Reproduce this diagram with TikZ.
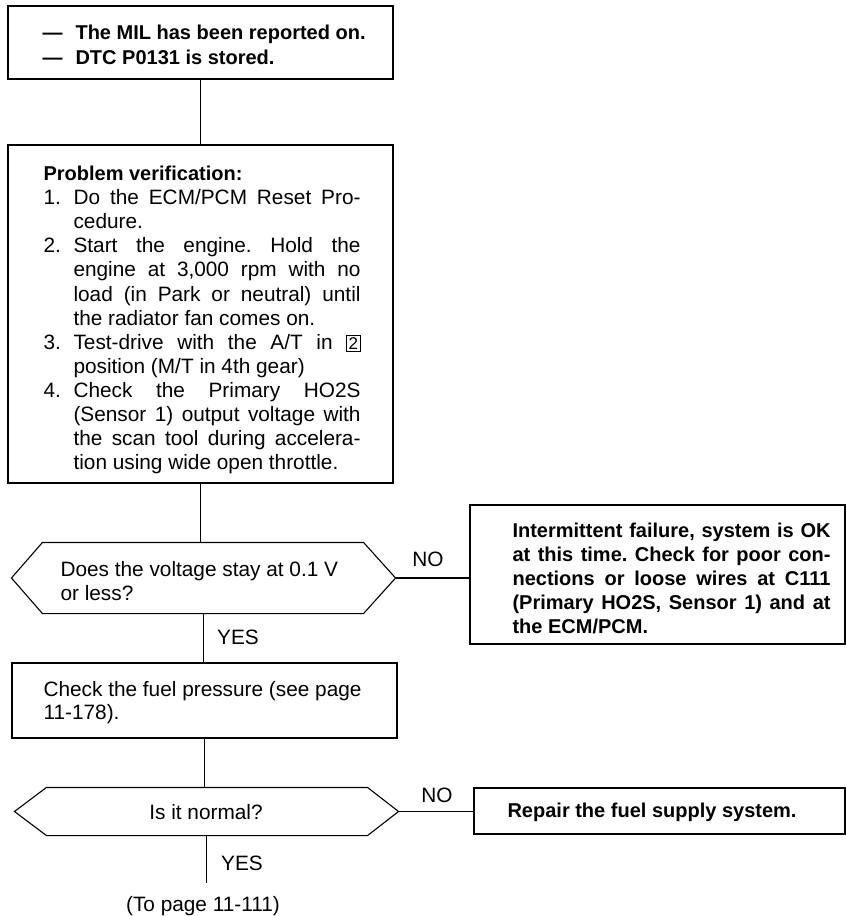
\documentclass[tikz,border=0pt]{standalone}
\usepackage{fontspec}
\setmainfont{Liberation Sans}
\usetikzlibrary{calc}
\frenchspacing
\newcommand\jl[1]{\makebox[287pt][s]{#1}}
\newcommand\jr[1]{\makebox[318pt][s]{#1}}
\newcommand\nm[1]{\makebox[30pt][l]{#1}}
\newcommand\boxtwo{{\setlength\fboxsep{1.5pt}\setlength\fboxrule{0.9pt}\fbox{\fontsize{17}{17}\selectfont 2}}}
\begin{document}
\begin{tikzpicture}[x=1pt,y=-1pt,line width=1.1pt,
  every node/.style={inner sep=0pt,font=\fontsize{20.8}{24}\selectfont\frenchspacing},
  bx/.style={draw,rectangle,inner sep=0pt},
  hx/.style={rectangle,inner sep=0pt},
  txt/.style={anchor=north west,align=left},
  bold/.style={font=\fontsize{20}{24}\selectfont\bfseries\frenchspacing},
  lbl/.style={anchor=center}]
\useasboundingbox[fill=white] (0,0) rectangle (846,916);

% boxes
\node[bx,minimum width=385pt,minimum height=73pt] (b1) at (200.5,42.5) {};
\node[bx,minimum width=385pt,minimum height=338pt] (b2) at (200.5,314) {};
\node[hx,minimum width=383pt,minimum height=70pt] (h1) at (203.5,578) {};
\node[bx,minimum width=375pt,minimum height=139pt] (r1) at (657.5,574.5) {};
\node[bx,minimum width=385pt,minimum height=75pt] (b3) at (204.5,700.5) {};
\node[hx,minimum width=383pt,minimum height=47pt] (h2) at (206.5,811.5) {};
\node[bx,minimum width=371pt,minimum height=46pt] (r2) at (659.5,811) {};
\coordinate (end) at (208,883);

% hexagons
\draw (h1.west) -- ([xshift=31pt]h1.north west) -- ([xshift=-32pt]h1.north east) -- (h1.east)
  -- ([xshift=-32pt]h1.south east) -- ([xshift=31pt]h1.south west) -- cycle;
\draw (h2.west) -- ([xshift=32pt]h2.north west) -- ([xshift=-31pt]h2.north east) -- (h2.east)
  -- ([xshift=-31pt]h2.south east) -- ([xshift=32pt]h2.south west) -- cycle;

% texts
\node[txt,font=\fontsize{20}{25}\selectfont\bfseries\frenchspacing] (t1) at (42,24.5)
  {\makebox[33pt][l]{—}The MIL has been reported on.\\\makebox[33pt][l]{—}DTC P0131 is stored.};
\node[txt,font=\fontsize{20.8}{24.1}\selectfont\frenchspacing] (t2) at (43,165.5)
  {\textbf{\fontsize{20}{24.1}\selectfont Problem verification:}\\
   \nm{1.}\jl{Do the ECM/PCM Reset Pro-}\\
   \nm{}cedure.\\
   \nm{2.}\jl{Start the engine. Hold the}\\
   \nm{}\jl{engine at 3,000 rpm with no}\\
   \nm{}\jl{load (in Park or neutral) until}\\
   \nm{}the radiator fan comes on.\\
   \nm{3.}\jl{Test-drive with the A/T in \boxtwo}\\
   \nm{}position (M/T in 4th gear)\\
   \nm{4.}\jl{Check the Primary HO2S}\\
   \nm{}\jl{(Sensor 1) output voltage with}\\
   \nm{}\jl{the scan tool during accelera-}\\
   \nm{}tion using wide open throttle.};
\node[txt] (h1t) at (60,560.5) {Does the voltage stay at 0.1 V\\or less?};
\node[txt,bold] (r1t) at (512,522.5)
  {\jr{Intermittent failure, system is OK}\\
   \jr{at this time. Check for poor con-}\\
   \jr{nections or loose wires at C111}\\
   \jr{(Primary HO2S, Sensor 1) and at}\\
   the ECM/PCM.};
\node[txt,font=\fontsize{20.8}{23}\selectfont\frenchspacing] (b3t) at (43,680.5)
  {Check the fuel pressure (see page\\11-178).};
\node[lbl] (h2t) at (206,812) {Is it normal?};
\node[anchor=west,bold] (r2t) at (507,812) {Repair the fuel supply system.};

% connectors
\draw (b1.south) -- (b2.north);
\draw (b2.south) -- (b2.south |- h1.north);
\draw (h1.south) -- (h1.south |- b3.north);
\draw (b3.south) -- (b3.south |- h2.north);
\draw (h2.south) -- (h2.south |- end);
\draw (h1.east) -- (h1.east -| r1.west);
\draw (h2.east) -- (h2.east -| r2.west);

% labels
\node[lbl] (no1) at (428,559) {NO};
\node[lbl] (yes1) at (238,637) {YES};
\node[lbl] (no2) at (437,795) {NO};
\node[lbl] (yes2) at (242,863) {YES};
\node[anchor=base] (topage) at (203,911) {(To page 11-111)};
\end{tikzpicture}
\end{document}
